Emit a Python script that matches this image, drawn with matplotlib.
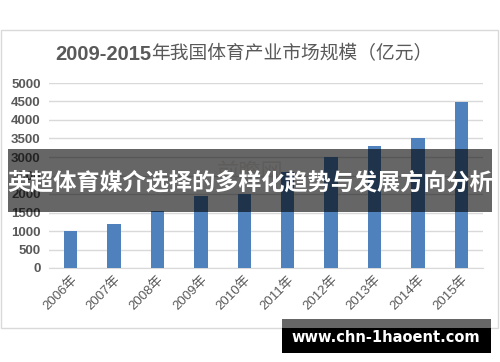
import matplotlib
matplotlib.use("Agg")
import matplotlib.pyplot as plt
from matplotlib.patches import Rectangle

years = ["2006年", "2007年", "2008年", "2009年", "2010年", "2011年", "2012年", "2013年", "2014年", "2015年"]
values = [1000, 1200, 1550, 1950, 2000, 2600, 3000, 3300, 3500, 4480]
yticks = [0, 500, 1000, 1500, 2000, 2500, 3000, 3500, 4000, 4500, 5000]
title_num = "2009-2015"
title_cjk = "年我国体育产业市场规模（亿元）"
banner = "英超体育媒介选择的多样化趋势与发展方向分析"
site = "www.chn-1haoent.com"
wm = "前瞻网"

W, H = 500, 362
fig = plt.figure(figsize=(5, 3.62), dpi=100)
fig.patch.set_facecolor("white")

def fx(px):
    return px / W

def fy(py):
    return 1 - py / H

# chart frame
fig.patches.append(Rectangle((fx(1), fy(328)), fx(498) - fx(1), fy(30) - fy(328),
                             transform=fig.transFigure, fill=False, edgecolor="#d9d9d9", lw=1))

ax = fig.add_axes([fx(49), fy(268), fx(483) - fx(49), fy(83) - fy(268)])
x = list(range(len(years)))
ax.bar(x, values, width=0.31, color="#4f81bd", zorder=3)
ax.set_xlim(-0.5, len(years) - 0.5)
ax.set_ylim(0, 5000)
ax.set_yticks(yticks)
ax.set_yticklabels([str(v) for v in yticks], fontfamily="Liberation Sans",
                   fontweight="bold", fontsize=9.5, color="#595959")
ax.set_xticks(x)
ax.set_xticklabels(years, rotation=45, ha="right", rotation_mode="anchor",
                   fontfamily=["Liberation Sans", "Noto Sans CJK SC"], fontsize=9.5,
                   color="#595959")
ax.tick_params(axis="both", length=0, pad=6)
ax.tick_params(axis="x", pad=4)
ax.grid(axis="y", color="#d9d9d9", lw=1, zorder=0)
for s in ["top", "right", "left"]:
    ax.spines[s].set_visible(False)
ax.spines["bottom"].set_color("#d9d9d9")
ax.set_facecolor("none")

# title
t1 = fig.text(fx(55), fy(60), title_num, fontfamily="Liberation Sans", fontweight="bold",
              fontsize=14.5, color="#595959", va="baseline", ha="left")
fig.canvas.draw()
ax.annotate(title_cjk, xy=(1, 0), xycoords=t1, xytext=(0, 0), textcoords="offset points",
            fontfamily="Noto Sans CJK SC", fontsize=13.5, color="#595959",
            va="bottom", ha="left", annotation_clip=False)

# faint watermark
fig.text(fx(250), fy(172), wm, fontfamily="Noto Sans CJK SC", fontsize=16,
         color="#eee8e4", ha="center", va="center", zorder=1)

# banner overlay
fig.patches.append(Rectangle((fx(8), fy(212)), fx(492) - fx(8), fy(149) - fy(212),
                             transform=fig.transFigure, facecolor="black", alpha=0.6,
                             edgecolor="none", zorder=10))
fig.text(fx(250), fy(183), banner, fontfamily="Noto Sans CJK SC", fontweight="bold",
         fontsize=16.7, color="white", ha="center", va="center", zorder=11)

# site box
fig.patches.append(Rectangle((fx(282), fy(328)), fx(491) - fx(282), fy(319) - fy(328),
                             transform=fig.transFigure, facecolor="#666666",
                             edgecolor="none", zorder=10))
fig.patches.append(Rectangle((fx(282), fy(353)), fx(491) - fx(282), fy(328) - fy(353),
                             transform=fig.transFigure, facecolor="black",
                             edgecolor="none", zorder=10))
fig.text(fx(386), fy(337), site, fontfamily="DejaVu Sans", fontweight="bold",
         fontsize=10.5, color="white", ha="center", va="center", zorder=11)

fig.savefig("out.png", dpi=100)
